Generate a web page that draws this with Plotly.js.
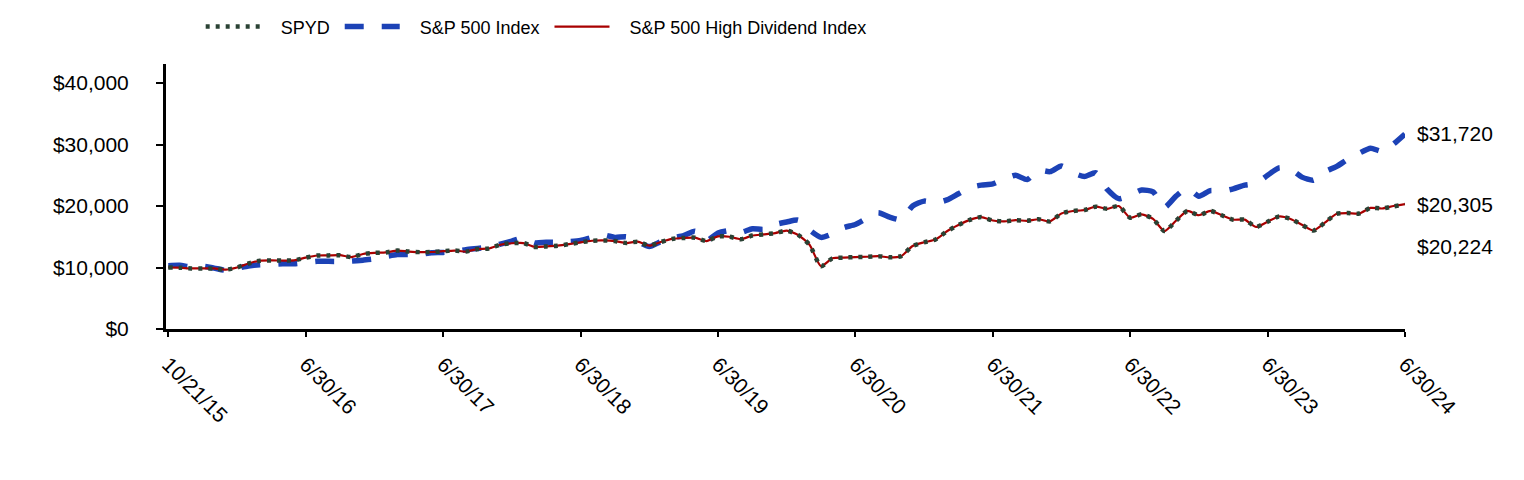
<!DOCTYPE html>
<html><head><meta charset="utf-8">
<script src="https://cdn.plot.ly/plotly-3.0.1.min.js"></script>
<style>html,body{margin:0;padding:0;background:#fff}#chart{width:1524px;height:480px}</style>
</head><body><div id="chart"></div>
<script>
// Tick labels (evenly spaced along the axis)
const tickLabels = ['10/21/15','6/30/16','6/30/17','6/30/18','6/30/19','6/30/20','6/30/21','6/30/22','6/30/23','6/30/24'];
const tickIdx = [0,12,24,36,48,60,72,84,96,108];
const yTicks = [0, 10000, 20000, 30000, 40000];

// Growth of $10,000 (one per period)
const hdiv = [
 10000, 9970, 9850, 9850, 9850, 9650, 10000, 10650, 11100, 11150, 11130, 11150,
 11600, 11950, 11970, 12000, 11700, 12200, 12380, 12450, 12750, 12600, 12500, 12520,
 12650, 12760, 12600, 13000, 13100, 13700, 13950, 13980, 13350, 13430, 13550, 13800,
 14100, 14350, 14400, 14300, 13980, 14200, 13550, 14150, 14650, 14800, 14850, 14300,
 15060, 15000, 14600, 15200, 15380, 15600, 16000, 15300, 13700, 10200, 11500, 11600,
 11700, 11750, 11850, 11650, 11850, 13500, 14100, 14550, 15900, 16900, 17750, 18200,
 17650, 17500, 17700, 17600, 17850, 17500, 18800, 19190, 19350, 19900, 19550, 20000,
 18100, 18650, 17900, 15920, 17600, 19200, 18500, 19200, 18500, 17780, 17780, 16600,
 17450, 18300, 17900, 16950, 16000, 17300, 18700, 18850, 18780, 19700, 19600, 20000,
 20305];
const spyd = [
 10000, 9970, 9850, 9850, 9850, 9650, 10000, 10650, 11100, 11150, 11130, 11150,
 11600, 11950, 11970, 12000, 11700, 12200, 12380, 12450, 12750, 12600, 12500, 12520,
 12650, 12760, 12600, 13000, 13100, 13700, 13950, 13980, 13350, 13430, 13550, 13800,
 14100, 14350, 14400, 14300, 13980, 14200, 13550, 14150, 14650, 14800, 14850, 14300,
 15060, 15000, 14600, 15200, 15380, 15600, 16000, 15300, 13700, 10200, 11500, 11600,
 11700, 11750, 11850, 11650, 11850, 13500, 14100, 14550, 15900, 16900, 17750, 18200,
 17650, 17500, 17700, 17600, 17850, 17500, 18800, 19190, 19350, 19900, 19550, 20000,
 18100, 18650, 17900, 15920, 17600, 19200, 18500, 19200, 18500, 17780, 17780, 16600,
 17450, 18300, 17900, 16950, 16000, 17300, 18700, 18850, 18780, 19700, 19600, 19950,
 20224];
const sp500 = [
 10300, 10350, 10100, 10200, 9900, 9550, 9900, 10250, 10450, 10500, 10600, 10600,
 10800, 11000, 11000, 11000, 11050, 11200, 11400, 11800, 12100, 12100, 12200, 12400,
 12450, 12600, 12900, 13100, 13300, 13800, 14300, 14800, 14000, 14100, 14100, 14200,
 14400, 14900, 15300, 14900, 15000, 14200, 13400, 14200, 14800, 15200, 15900, 14400,
 15600, 16000, 15700, 16300, 16200, 17000, 17400, 17700, 16100, 14900, 15500, 16500,
 17000, 18000, 18900, 18200, 17800, 20000, 20800, 20500, 21000, 22000, 23000, 23400,
 23600, 24400, 25000, 24300, 25800, 25600, 26500, 25400, 24800, 25400, 22700, 21200,
 21800, 22600, 22300, 19800, 21600, 22900, 21600, 22500, 22400, 22800, 23400, 23700,
 25000, 26200, 26000, 24700, 24200, 25600, 26400, 27600, 28600, 29400, 28900, 30100,
 31720];
const idx = sp500.map((_, i) => i);

const fmt = v => '$' + v.toLocaleString('en-US');
const last = idx.length - 1;
const labFont = {family: 'Liberation Sans, Arial, sans-serif', size: 21, color: '#000'};
const pad = '\u00A0\u00A0\u00A0';

const traces = [
  {x: idx, y: sp500, name: pad + 'S&P 500 Index\u00A0', type: 'scatter', mode: 'lines', legendrank: 2,
   line: {color: '#1c42b6', width: 5.5, dash: '19px,18px', shape: 'spline', smoothing: 0.6}},
  {x: idx, y: hdiv, name: pad + 'S&P 500 High Dividend Index', type: 'scatter', mode: 'lines', legendrank: 3,
   line: {color: '#a80000', width: 2.2, shape: 'spline', smoothing: 0.6}},
  {x: idx, y: spyd, name: pad + 'SPYD\u00A0', type: 'scatter', mode: 'lines', legendrank: 1,
   line: {color: '#2a4234', width: 4.5, dash: '4px,6px', shape: 'spline', smoothing: 0.6}}
];

const layout = {
  width: 1524, height: 480,
  margin: {l: 166, r: 119, t: 64, b: 151, autoexpand: false},
  paper_bgcolor: '#fff', plot_bgcolor: '#fff',
  font: labFont,
  showlegend: true,
  legend: {orientation: 'h', x: 0.028, xanchor: 'left', y: 1.21, yanchor: 'top',
    font: {family: 'Liberation Sans, Arial, sans-serif', size: 18, color: '#000'},
    itemwidth: 55, bgcolor: 'rgba(0,0,0,0)'},
  xaxis: {range: [-0.2, last], tickvals: tickIdx, ticktext: tickLabels, tickangle: 45,
    showline: true, linewidth: 3, linecolor: '#000', ticks: 'outside', ticklen: 5, tickwidth: 2, tickcolor: '#000',
    showgrid: false, zeroline: false, tickfont: labFont, ticklabelstandoff: 7},
  yaxis: {range: [0, 43100], tickvals: yTicks, ticktext: yTicks.map(fmt),
    showline: true, linewidth: 3, linecolor: '#000', ticks: 'outside', ticklen: 7, tickwidth: 2, tickcolor: '#000',
    showgrid: false, zeroline: false, tickfont: labFont, ticklabelstandoff: 23},
  annotations: [
    {x: last, y: sp500[last], xref: 'x', yref: 'y', text: fmt(sp500[last]), showarrow: false, xanchor: 'left', xshift: 10, font: labFont},
    {x: last, y: hdiv[last], xref: 'x', yref: 'y', text: fmt(hdiv[last]), showarrow: false, xanchor: 'left', xshift: 10, font: labFont},
    {x: last, y: spyd[last], xref: 'x', yref: 'y', text: fmt(spyd[last]), showarrow: false, xanchor: 'left', xshift: 10, yshift: -42, font: labFont}
  ]
};

Plotly.newPlot('chart', traces, layout, {displayModeBar: false, staticPlot: true});
</script>
</body></html>
